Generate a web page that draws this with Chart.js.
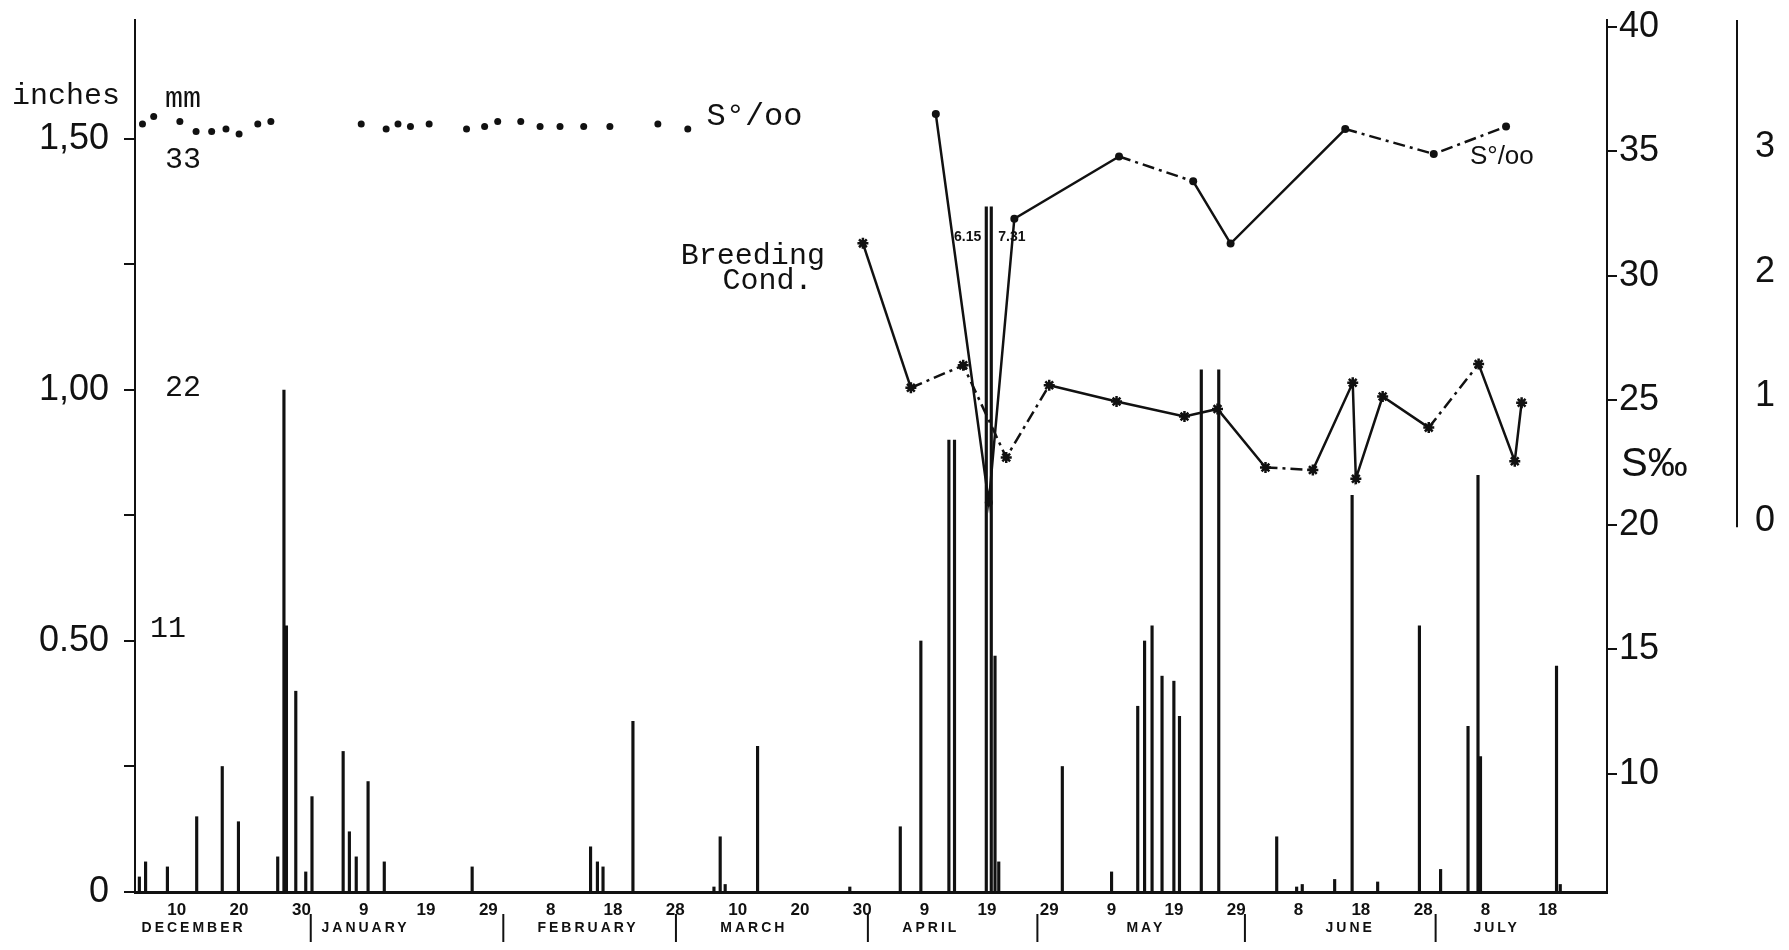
<!DOCTYPE html>
<html>
<head>
<meta charset="utf-8">
<title>Rainfall, salinity and breeding condition</title>
<script src="https://cdn.jsdelivr.net/npm/chart.js@4.4.1/dist/chart.umd.min.js"></script>
<style>
  html, body { margin: 0; padding: 0; background: #fff; }
  #wrap { width: 1789px; height: 950px; }
</style>
</head>
<body>
<div id="wrap"><canvas id="chart" width="1789" height="950"></canvas></div>
<script>
// Day numbers count from 1 December (1 Dec = 0, 10 Dec = 9 ... 18 July = 229)

// Daily rainfall, inches
const rainDays = [3, 4, 7.5, 12.2, 16.3, 18.9, 25.2, 26.2, 26.6, 28.1, 29.7, 30.7, 35.7, 36.7, 37.8, 39.7, 42.3, 56.4,
  75.4, 76.5, 77.4, 82.2, 95.2, 96.2, 97, 102.2, 117, 125.1, 128.4, 132.9, 133.8, 138.9, 139.7, 140.3, 140.9,
  151.1, 159, 163.2, 164.3, 165.5, 167.1, 169, 169.9, 173.4, 176.2, 185.5, 188.7, 189.6, 194.8, 197.6,
  201.7, 208.4, 211.8, 216.2, 217.8, 218.2, 230.4, 231];
const rainInches = [0.03, 0.06, 0.05, 0.15, 0.25, 0.14, 0.07, 1.00, 0.53, 0.40, 0.04, 0.19, 0.28, 0.12, 0.07, 0.22, 0.06, 0.05,
  0.09, 0.06, 0.05, 0.34, 0.01, 0.11, 0.015, 0.29, 0.01, 0.13, 0.50, 0.90, 0.90, 6.15, 7.31, 0.47, 0.06,
  0.25, 0.04, 0.37, 0.50, 0.53, 0.43, 0.42, 0.35, 1.04, 1.04, 0.11, 0.01, 0.015, 0.025, 0.79,
  0.02, 0.53, 0.045, 0.33, 0.83, 0.27, 0.45, 0.015];
const rainCap = 1.365; // off-scale falls are cut here and labelled

// Salinity (S o/oo), December - March
const winterSalDays = [3.5, 5.3, 9.5, 12.1, 14.6, 16.9, 19, 22, 24.1, 38.6, 42.6, 44.5, 46.5, 49.5, 55.5, 58.4,
  60.5, 64.2, 67.3, 70.5, 74.3, 78.5, 86.2, 91];
const winterSal = [36.1, 36.4, 36.2, 35.8, 35.8, 35.9, 35.7, 36.1, 36.2, 36.1, 35.9, 36.1, 36.0, 36.1, 35.9, 36.0,
  36.2, 36.2, 36.0, 36.0, 36.0, 36.0, 36.1, 35.9];

// Salinity, April - July
const springSalDays = [130.8, 139.3, 143.4, 160.2, 172.1, 178.1, 196.5, 210.7, 222.3];
const springSal = [36.5, 20.9, 32.3, 34.8, 33.8, 31.3, 35.9, 34.9, 36.0];

// Breeding condition (0 - 3)
const breedDays = [119.1, 126.8, 135.2, 142.1, 149, 159.8, 170.7, 176, 183.7, 191.3, 197.7, 198.2, 202.5, 209.9,
  217.9, 223.7, 224.8];
const breedCond = [2.23, 1.07, 1.25, 0.51, 1.09, 0.96, 0.84, 0.90, 0.43, 0.41, 1.11, 0.34, 1.00, 0.75,
  1.26, 0.48, 0.95];

// Axes
const dayTicks = [9, 19, 29, 39, 49, 59, 69, 79, 89, 99, 109, 119, 129, 139, 149, 159, 169, 179, 189, 199, 209, 219, 229];
const dayTickLabels = ['10', '20', '30', '9', '19', '29', '8', '18', '28', '10', '20', '30', '9', '19', '29',
  '9', '19', '29', '8', '18', '28', '8', '18'];
const months = ['DECEMBER', 'JANUARY', 'FEBRUARY', 'MARCH', 'APRIL', 'MAY', 'JUNE', 'JULY'];
const monthMidDays = [11.7, 39.3, 75, 101.6, 130, 164.5, 197.3, 220.8];
const monthEndDays = [30.5, 61.4, 89.1, 119.9, 147.1, 180.4, 211];
const inchTicks = [0, 0.25, 0.5, 0.75, 1, 1.25, 1.5];
const inchTickLabels = ['0', '', '0.50', '', '1,00', '', '1,50'];
const mmLabels = ['11', '22', '33'];
const salTicks = [10, 15, 20, 25, 30, 35, 40];
const breedTicks = [0, 1, 2, 3];

// segments drawn dash-dot (index of the segment's first point)
const dashedSal = [3, 6, 7];
const dashedBreed = [1, 2, 3, 8, 13];

const ink = '#111';
const sans = '"Liberation Sans", Arial, sans-serif';
const narrow = '"Liberation Sans Narrow", "Liberation Sans", sans-serif';
const mono = '"Liberation Mono", "Courier New", monospace';
const dashDot = [12, 5, 3, 5];

function fixTicks(values) {
  return scale => { scale.ticks = values.map(v => ({ value: v })); };
}
function fixSize(prop, size) {
  return scale => {
    scale[prop] = size;
    scale.paddingTop = 0; scale.paddingBottom = 0;
    scale.paddingLeft = 0; scale.paddingRight = 0;
  };
}

const paper = {
  id: 'paper',
  beforeDraw(chart) {
    const ctx = chart.ctx;
    ctx.save();
    ctx.fillStyle = '#fff';
    ctx.fillRect(0, 0, chart.width, chart.height);
    ctx.restore();
  },
  afterDraw(chart) {
    const { ctx, scales: { x, y, yS, yB } } = chart;
    ctx.save();
    ctx.fillStyle = ink;
    ctx.strokeStyle = ink;

    // month names and separators under the day ticks
    ctx.font = 'bold 14px ' + narrow;
    ctx.letterSpacing = '3px';
    ctx.textAlign = 'center';
    ctx.textBaseline = 'middle';
    months.forEach((m, i) => ctx.fillText(m, x.getPixelForValue(monthMidDays[i]), 928));
    ctx.letterSpacing = '0px';
    ctx.lineWidth = 2;
    monthEndDays.forEach(d => {
      const px = x.getPixelForValue(d);
      ctx.beginPath();
      ctx.moveTo(px, 914);
      ctx.lineTo(px, 942);
      ctx.stroke();
    });

    // breeding condition axis line (0 up to top)
    ctx.lineWidth = 2;
    ctx.beginPath();
    ctx.moveTo(yB.left, yB.top);
    ctx.lineTo(yB.left, yB.getPixelForValue(-0.05));
    ctx.stroke();

    // left axis titles and mm equivalents
    ctx.font = '30px ' + mono;
    ctx.textAlign = 'left';
    ctx.fillText('inches', 12, y.getPixelForValue(1.585));
    ctx.fillText('mm', 165, y.getPixelForValue(1.58));
    ctx.fillText(mmLabels[0], 150, y.getPixelForValue(0.524));
    ctx.fillText(mmLabels[1], 165, y.getPixelForValue(1.004));
    ctx.fillText(mmLabels[2], 165, y.getPixelForValue(1.458));

    // series labels
    ctx.font = '32px ' + mono;
    ctx.fillText('S°/oo', x.getPixelForValue(94), yS.getPixelForValue(36.4));
    ctx.font = '30px ' + mono;
    ctx.textAlign = 'right';
    ctx.fillText('Breeding', x.getPixelForValue(113), yS.getPixelForValue(30.8));
    ctx.fillText('Cond.', x.getPixelForValue(111), yS.getPixelForValue(29.8));
    ctx.textAlign = 'left';
    ctx.font = '26px ' + sans;
    ctx.fillText('S°/oo', x.getPixelForValue(216.5), yS.getPixelForValue(34.8));
    ctx.font = '40px ' + sans;
    ctx.fillText('S‰', yS.left + 14, yS.getPixelForValue(22.4));

    // values of the off-scale falls
    ctx.font = 'bold 14px ' + narrow;
    let side = 0;
    rainDays.forEach((d, i) => {
      if (rainInches[i] <= rainCap) return;
      const px = x.getPixelForValue(d);
      const py = y.getPixelForValue(rainCap - 0.06);
      ctx.textAlign = side === 0 ? 'right' : 'left';
      ctx.fillText(rainInches[i].toFixed(2), side === 0 ? px - 5 : px + 7, py);
      side++;
    });
    ctx.restore();
  }
};

new Chart(document.getElementById('chart'), {
  type: 'bar',
  data: {
    datasets: [
      {
        type: 'bar',
        label: 'Rainfall (inches)',
        data: rainDays.map((d, i) => ({ x: d, y: Math.min(rainInches[i], rainCap) })),
        xAxisID: 'x',
        yAxisID: 'y',
        backgroundColor: ink,
        borderWidth: 0,
        barThickness: 2.5,
        order: 3
      },
      {
        type: 'scatter',
        label: 'S o/oo (Dec-Mar)',
        data: winterSalDays.map((d, i) => ({ x: d, y: winterSal[i] })),
        xAxisID: 'x',
        yAxisID: 'yS',
        showLine: false,
        pointRadius: 3.5,
        pointBackgroundColor: ink,
        pointBorderWidth: 0,
        order: 1
      },
      {
        type: 'line',
        label: 'S o/oo',
        data: springSalDays.map((d, i) => ({ x: d, y: springSal[i] })),
        xAxisID: 'x',
        yAxisID: 'yS',
        borderColor: ink,
        borderWidth: 2.5,
        pointRadius: 4,
        pointBackgroundColor: ink,
        pointBorderWidth: 0,
        tension: 0,
        segment: {
          borderDash: c => dashedSal.includes(c.p0DataIndex) ? dashDot : undefined
        },
        order: 1
      },
      {
        type: 'line',
        label: 'Breeding Cond.',
        data: breedDays.map((d, i) => ({ x: d, y: breedCond[i] })),
        xAxisID: 'x',
        yAxisID: 'yB',
        borderColor: ink,
        borderWidth: 2.5,
        pointStyle: 'star',
        pointRadius: 5.5,
        pointBorderColor: ink,
        pointBorderWidth: 2.5,
        tension: 0,
        segment: {
          borderDash: c => dashedBreed.includes(c.p0DataIndex) ? dashDot : undefined
        },
        order: 1
      }
    ]
  },
  options: {
    responsive: false,
    animation: false,
    events: [],
    layout: { padding: { top: 20, left: 0, right: 0, bottom: 0 } },
    plugins: {
      legend: { display: false },
      tooltip: { enabled: false }
    },
    scales: {
      x: {
        type: 'linear',
        min: 2.3,
        max: 238.5,
        offset: false,
        afterBuildTicks: fixTicks(dayTicks),
        afterFit: fixSize('height', 58),
        ticks: {
          autoSkip: false,
          maxRotation: 0,
          padding: 8,
          color: ink,
          font: { family: narrow, size: 17, weight: 'bold' },
          callback: (v, i) => dayTickLabels[i]
        },
        grid: { display: false, drawTicks: false },
        border: { color: ink, width: 3 }
      },
      y: {
        position: 'left',
        min: 0,
        max: 1.737,
        afterBuildTicks: fixTicks(inchTicks),
        afterFit: fixSize('width', 135),
        ticks: {
          padding: 15,
          color: ink,
          font: { family: sans, size: 36 },
          callback: (v, i) => inchTickLabels[i]
        },
        grid: { drawOnChartArea: false, tickLength: 11, color: ink, lineWidth: 2 },
        border: { color: ink, width: 2 }
      },
      yS: {
        position: 'right',
        weight: 0,
        min: 5.26,
        max: 40.28,
        afterBuildTicks: fixTicks(salTicks),
        afterFit: fixSize('width', 130),
        ticks: {
          padding: 2,
          color: ink,
          font: { family: sans, size: 36 }
        },
        grid: { drawOnChartArea: false, tickLength: 10, color: ink, lineWidth: 2 },
        border: { color: ink, width: 2 }
      },
      yB: {
        position: 'right',
        weight: 1,
        min: -2.98,
        max: 4.024,
        afterBuildTicks: fixTicks(breedTicks),
        afterFit: fixSize('width', 52),
        ticks: {
          padding: 18,
          color: ink,
          font: { family: sans, size: 36 }
        },
        grid: { display: false, drawTicks: false },
        border: { display: false }
      }
    }
  },
  plugins: [paper]
});
</script>
</body>
</html>
